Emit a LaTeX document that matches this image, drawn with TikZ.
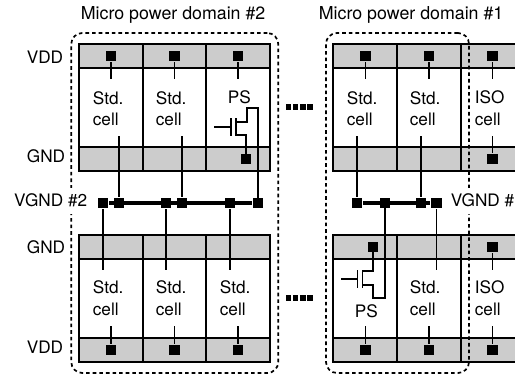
\documentclass[tikz,border=0pt]{standalone}
\usepackage{fontspec}
\setmainfont{TeX Gyre Heros}
\begin{document}
\begin{tikzpicture}
	[x=1pt,y=-1pt,line width=1.7pt,font=\fontsize{17.2}{20}\selectfont,
	railbox/.style={draw,fill=black!20,inner sep=0,minimum height=24pt},
	cellbox/.style={draw,fill=white,inner sep=0,minimum height=79pt},
	pad/.style={fill=black,inner sep=0,minimum size=10.6pt},
	dotbox/.style={fill=black,inner sep=0,minimum size=5.4pt},
	lbl/.style={inner sep=0,anchor=base west},
	sidelbl/.style={inner sep=0,anchor=base east},
	titlelbl/.style={inner sep=0,anchor=base west,font=\fontsize{17.8}{20}\selectfont},
	domainbox/.style={draw,dashed,dash pattern=on 3.6pt off 3pt,rounded corners=11pt,inner sep=0}]
	\useasboundingbox (0,0) rectangle (515,374);
	\foreach \n/\x/\w in {a/111/64,b/174.5/63.5,c/238/63.5,d/365/64,e/429/64,f/489/56}
	{
		\node[cellbox,minimum width=\w pt] (up\n) at (\x,107.5) {};
		\node[cellbox,minimum width=\w pt] (lo\n) at (\x,298.5) {};
		\node[railbox,minimum width=\w pt] (vt\n) at (\x,56) {};
		\node[railbox,minimum width=\w pt] (gt\n) at (\x,159) {};
		\node[railbox,minimum width=\w pt] (gb\n) at (\x,247) {};
		\node[railbox,minimum width=\w pt] (vb\n) at (\x,350) {};
	}
	\node[lbl] (t1) at (92,105) {Std.};
	\node[lbl] (t2) at (92,126) {cell};
	\node[lbl] (t3) at (155,105) {Std.};
	\node[lbl] (t4) at (155,126) {cell};
	\node[lbl] (t5) at (227,104) {PS};
	\node[lbl] (t6) at (346,105) {Std.};
	\node[lbl] (t7) at (346,126) {cell};
	\node[lbl] (t8) at (409,105) {Std.};
	\node[lbl] (t9) at (409,126) {cell};
	\node[lbl] (t10) at (474,104) {ISO};
	\node[lbl] (t11) at (474,126) {cell};
	\node[lbl] (t12) at (92,294) {Std.};
	\node[lbl] (t13) at (92,316) {cell};
	\node[lbl] (t14) at (155,294) {Std.};
	\node[lbl] (t15) at (155,316) {cell};
	\node[lbl] (t16) at (219,294) {Std.};
	\node[lbl] (t17) at (219,316) {cell};
	\node[lbl] (t18) at (354,318) {PS};
	\node[lbl] (t19) at (409,294) {Std.};
	\node[lbl] (t20) at (409,316) {cell};
	\node[lbl] (t21) at (474,294) {ISO};
	\node[lbl] (t22) at (474,316) {cell};
	\node[titlelbl] (dn2) at (80,20) {Micro power domain \#2};
	\node[titlelbl] (dn1) at (318,20) {Micro power domain \#1};
	\node[sidelbl] (s1) at (64,64) {VDD};
	\node[sidelbl] (s2) at (66,163) {GND};
	\node[sidelbl] (s4) at (66,254) {GND};
	\node[sidelbl] (s5) at (64,354) {VDD};
	\foreach \n/\x in {1/111,2/174.5,3/238,4/365.5,5/429,6/492.5}
	{
		\node[pad] (pt\n) at (\x,56) {};
		\coordinate (et\n) at (\x,79);
		\draw (pt\n) -- (et\n);
	}
	\foreach \n/\x in {1/111,2/174.5,3/238,4/365.5,5/429,6/492.5}
	{
		\node[pad] (pb\n) at (\x,350) {};
		\coordinate (eb\n) at (\x,326);
		\draw (pb\n) -- (eb\n);
	}
	\foreach \n/\x in {1/103,2/119,3/166,4/182,5/230,6/258,7/357,8/385,9/421,10/436.5}
		\node[pad] (vg\n) at (\x,203) {};
	\coordinate (u2) at (119,136);
	\coordinate (u4) at (182,136);
	\coordinate (u7) at (357,136);
	\coordinate (u9) at (421,136);
	\coordinate (d1) at (103,270);
	\coordinate (d3) at (166,270);
	\coordinate (d5) at (230,270);
	\coordinate (d10) at (436.5,270);
	\node[pad] (pg1) at (246,159) {};
	\node[pad] (pg2) at (492.5,159) {};
	\node[pad] (pg3) at (373,247) {};
	\node[pad] (pg4) at (492.5,247) {};
	\coordinate (e1) at (492.5,136);
	\coordinate (e2) at (492.5,270);
	\foreach \from/\to in {vg2/u2,vg4/u4,vg7/u7,vg9/u9,vg1/d1,vg3/d3,vg5/d5,vg10/d10,pg2/e1,pg4/e2}
	\draw (\from) -- (\to);
	\draw[line width=3.2pt] (vg1) -- (vg6);
	\draw[line width=3.2pt] (vg7) -- (vg10);
	% left switch
	\coordinate (a1) at (215,127);
	\coordinate (a2) at (231,127);
	\coordinate (a3) at (231,119);
	\coordinate (a4) at (231,135);
	\coordinate (a5) at (236,119);
	\coordinate (a6) at (236,135);
	\coordinate (a7) at (236,122);
	\coordinate (a8) at (247,122);
	\coordinate (a9) at (247,108);
	\coordinate (a10) at (258,108);
	\coordinate (a11) at (246,135);
	\foreach \from/\to in {a1/a2,a3/a4,a5/a6,a7/a8,a8/a9,a9/a10,a10/vg6,a6/a11,a11/pg1}
	\draw[line cap=rect] (\from) -- (\to);
	% right switch
	\coordinate (b1) at (342,279);
	\coordinate (b2) at (357.5,279);
	\coordinate (b3) at (357.5,271);
	\coordinate (b4) at (357.5,287);
	\coordinate (b5) at (362.5,271);
	\coordinate (b6) at (362.5,287);
	\coordinate (b7) at (362.5,271);
	\coordinate (b8) at (373,271);
	\coordinate (b9) at (373,285);
	\coordinate (b10) at (373,298);
	\coordinate (b11) at (385,298);
	\coordinate (b12) at (362.5,285);
	\foreach \from/\to in {b1/b2,b3/b4,b5/b6,b7/b8,b8/pg3,b12/b9,b9/b10,b10/b11,b11/vg8}
	\draw[line cap=rect] (\from) -- (\to);
	\foreach \n/\x in {1/288.5,2/295.7,3/302.9,4/310.1}
	{
		\node[dotbox] (du\n) at (\x,107) {};
		\node[dotbox] (dd\n) at (\x,298) {};
	}
	\node[domainbox,minimum width=207pt,minimum height=340pt] (dom2) at (174.75,203) {};
	\node[domainbox,minimum width=143pt,minimum height=340pt] (dom1) at (397.5,203) {};
	\node[sidelbl,fill=white,minimum height=26pt] (s3) at (88,207) {VGND \#2};
	\node[lbl,fill=white,minimum height=26pt] (s6) at (450,207) {VGND \#};
\end{tikzpicture}
\end{document}
